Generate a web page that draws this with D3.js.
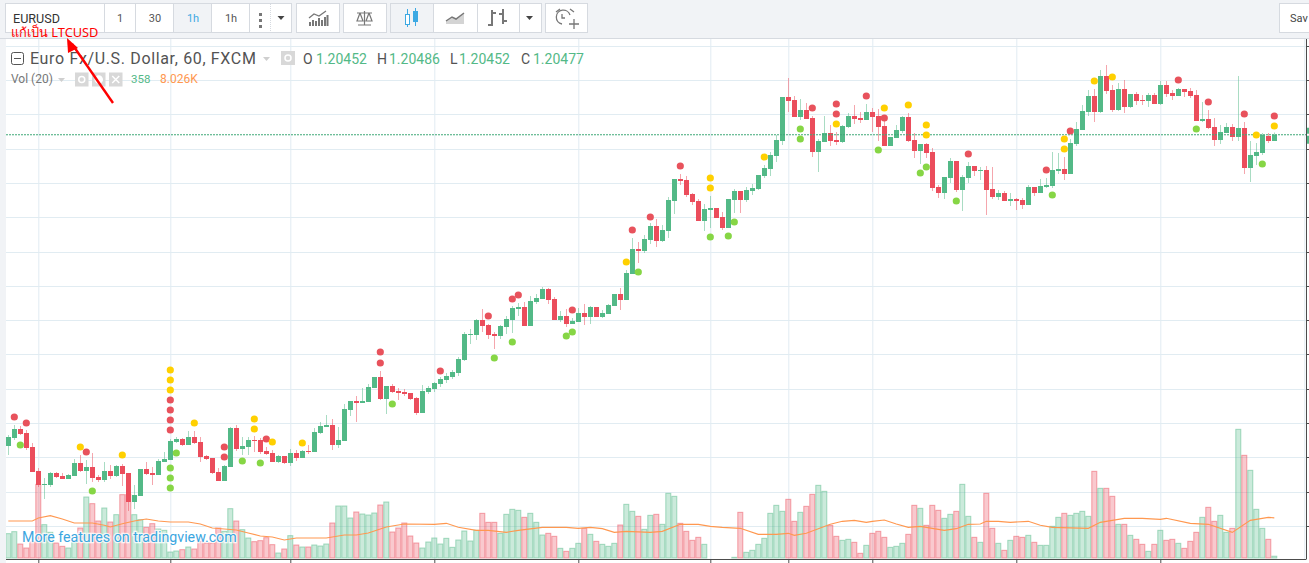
<!DOCTYPE html>
<html>
<head>
<meta charset="utf-8">
<script src="https://d3js.org/d3.v7.min.js"></script>
<style>
  html, body { margin: 0; padding: 0; background: #f1f3f6; overflow: hidden; }
  svg { display: block; font-family: Roboto, "Open Sans", sans-serif; }
</style>
</head>
<body>
<svg id="chart" width="1309" height="563"></svg>
<script>
// EURUSD 60 minute bars
const opens = [
  1.19232,1.19264,1.19300,1.19284,1.19228,1.19132,1.19076,1.19076,1.19124,1.19112,
  1.19100,1.19112,1.19164,1.19132,1.19148,1.19108,1.19096,1.19132,1.19112,1.19152,
  1.19124,1.19008,1.19032,1.19140,1.19124,1.19116,1.19168,1.19176,1.19248,1.19260,
  1.19236,1.19268,1.19248,1.19192,1.19184,1.19128,1.19092,1.19148,1.19304,1.19220,
  1.19228,1.19256,1.19256,1.19212,1.19204,1.19168,1.19192,1.19164,1.19204,1.19184,
  1.19212,1.19208,1.19284,1.19308,1.19316,1.19236,1.19252,1.19376,1.19412,1.19404,
  1.19408,1.19464,1.19508,1.19420,1.19472,1.19452,1.19448,1.19444,1.19424,1.19364,
  1.19448,1.19460,1.19480,1.19496,1.19508,1.19524,1.19576,1.19676,1.19676,1.19736,
  1.19716,1.19680,1.19672,1.19708,1.19736,1.19780,1.19788,1.19712,1.19808,1.19820,
  1.19860,1.19820,1.19736,1.19752,1.19720,1.19728,1.19764,1.19748,1.19788,1.19748,
  1.19760,1.19792,1.19840,1.19816,1.19920,1.20020,1.20012,1.20056,1.20112,1.20052,
  1.20092,1.20212,1.20300,1.20296,1.20240,1.20212,1.20132,1.20176,1.20184,1.20148,
  1.20104,1.20216,1.20252,1.20216,1.20252,1.20260,1.20312,1.20340,1.20392,1.20452,
  1.20628,1.20616,1.20548,1.20576,1.20544,1.20408,1.20448,1.20484,1.20456,1.20448,
  1.20508,1.20552,1.20544,1.20536,1.20568,1.20552,1.20512,1.20432,1.20464,1.20492,
  1.20548,1.20456,1.20412,1.20440,1.20408,1.20268,1.20244,1.20304,1.20372,1.20256,
  1.20304,1.20352,1.20332,1.20336,1.20260,1.20228,1.20244,1.20212,1.20220,1.20216,
  1.20196,1.20268,1.20244,1.20268,1.20272,1.20332,1.20340,1.20320,1.20440,1.20496,
  1.20568,1.20632,1.20568,1.20712,1.20656,1.20576,1.20660,1.20588,1.20640,1.20616,
  1.20612,1.20636,1.20600,1.20676,1.20644,1.20632,1.20660,1.20652,1.20636,1.20532,
  1.20540,1.20508,1.20456,1.20484,1.20508,1.20468,1.20504,1.20344,1.20392,1.20404,
  1.20472,1.20452];
const closes = [
  1.19268,1.19300,1.19280,1.19224,1.19128,1.19076,1.19080,1.19124,1.19108,1.19100,
  1.19116,1.19164,1.19132,1.19148,1.19104,1.19096,1.19132,1.19112,1.19152,1.19120,
  1.19008,1.19036,1.19140,1.19120,1.19116,1.19172,1.19180,1.19252,1.19260,1.19236,
  1.19268,1.19244,1.19188,1.19180,1.19124,1.19092,1.19152,1.19304,1.19220,1.19232,
  1.19256,1.19252,1.19208,1.19200,1.19168,1.19192,1.19164,1.19204,1.19184,1.19212,
  1.19208,1.19288,1.19312,1.19316,1.19236,1.19256,1.19380,1.19412,1.19404,1.19412,
  1.19468,1.19508,1.19420,1.19472,1.19448,1.19444,1.19440,1.19420,1.19364,1.19452,
  1.19464,1.19484,1.19500,1.19512,1.19528,1.19580,1.19680,1.19680,1.19736,1.19712,
  1.19676,1.19672,1.19712,1.19740,1.19784,1.19788,1.19712,1.19812,1.19824,1.19860,
  1.19816,1.19736,1.19752,1.19720,1.19732,1.19764,1.19748,1.19788,1.19748,1.19764,
  1.19796,1.19840,1.19816,1.19924,1.20020,1.20012,1.20060,1.20112,1.20052,1.20096,
  1.20216,1.20300,1.20292,1.20236,1.20208,1.20132,1.20180,1.20184,1.20144,1.20104,
  1.20220,1.20252,1.20216,1.20256,1.20264,1.20316,1.20344,1.20396,1.20456,1.20628,
  1.20612,1.20548,1.20576,1.20540,1.20408,1.20452,1.20484,1.20452,1.20448,1.20512,
  1.20552,1.20540,1.20536,1.20568,1.20548,1.20508,1.20432,1.20468,1.20496,1.20548,
  1.20452,1.20412,1.20440,1.20404,1.20264,1.20244,1.20308,1.20372,1.20256,1.20308,
  1.20352,1.20332,1.20336,1.20256,1.20228,1.20244,1.20212,1.20220,1.20212,1.20196,
  1.20268,1.20244,1.20272,1.20276,1.20336,1.20340,1.20320,1.20444,1.20500,1.20572,
  1.20632,1.20568,1.20712,1.20652,1.20576,1.20660,1.20588,1.20640,1.20612,1.20612,
  1.20636,1.20600,1.20676,1.20640,1.20632,1.20660,1.20648,1.20632,1.20532,1.20540,
  1.20504,1.20456,1.20488,1.20508,1.20468,1.20504,1.20344,1.20396,1.20408,1.20476,
  1.20452,1.20477];
const highs = [
  1.19276,1.19316,1.19312,1.19296,1.19244,1.19144,1.19104,1.19128,1.19128,1.19124,
  1.19120,1.19180,1.19196,1.19176,1.19204,1.19116,1.19168,1.19156,1.19156,1.19160,
  1.19124,1.19076,1.19140,1.19168,1.19148,1.19180,1.19208,1.19260,1.19268,1.19264,
  1.19292,1.19292,1.19268,1.19196,1.19184,1.19144,1.19156,1.19308,1.19316,1.19268,
  1.19268,1.19272,1.19264,1.19228,1.19216,1.19196,1.19192,1.19220,1.19216,1.19216,
  1.19236,1.19304,1.19328,1.19356,1.19340,1.19308,1.19400,1.19412,1.19432,1.19464,
  1.19480,1.19508,1.19532,1.19472,1.19480,1.19464,1.19460,1.19444,1.19428,1.19476,
  1.19472,1.19488,1.19508,1.19524,1.19536,1.19588,1.19688,1.19700,1.19740,1.19780,
  1.19720,1.19688,1.19716,1.19752,1.19792,1.19804,1.19808,1.19832,1.19840,1.19868,
  1.19864,1.19828,1.19772,1.19780,1.19744,1.19784,1.19800,1.19792,1.19788,1.19776,
  1.19800,1.19840,1.19864,1.19936,1.20064,1.20048,1.20076,1.20124,1.20140,1.20116,
  1.20228,1.20300,1.20320,1.20312,1.20244,1.20220,1.20200,1.20232,1.20184,1.20168,
  1.20220,1.20260,1.20252,1.20268,1.20280,1.20316,1.20356,1.20408,1.20476,1.20628,
  1.20704,1.20632,1.20620,1.20604,1.20552,1.20460,1.20552,1.20516,1.20488,1.20516,
  1.20564,1.20596,1.20568,1.20600,1.20584,1.20580,1.20556,1.20468,1.20516,1.20552,
  1.20564,1.20484,1.20440,1.20444,1.20424,1.20276,1.20308,1.20384,1.20372,1.20316,
  1.20368,1.20352,1.20348,1.20352,1.20348,1.20256,1.20252,1.20244,1.20224,1.20224,
  1.20276,1.20268,1.20300,1.20304,1.20408,1.20404,1.20388,1.20460,1.20528,1.20596,
  1.20656,1.20660,1.20736,1.20756,1.20676,1.20684,1.20696,1.20640,1.20648,1.20636,
  1.20644,1.20644,1.20692,1.20692,1.20656,1.20664,1.20660,1.20664,1.20656,1.20608,
  1.20576,1.20544,1.20516,1.20524,1.20520,1.20712,1.20528,1.20452,1.20444,1.20484,
  1.20484,1.20486];
const lows = [
  1.19196,1.19256,1.19276,1.19216,1.19128,1.19068,1.19020,1.19068,1.19104,1.19100,
  1.19100,1.19112,1.19128,1.19080,1.19088,1.19088,1.19088,1.19100,1.19108,1.19072,
  1.18972,1.18980,1.19032,1.19116,1.19076,1.19116,1.19168,1.19176,1.19244,1.19232,
  1.19236,1.19240,1.19168,1.19176,1.19120,1.19092,1.19092,1.19148,1.19212,1.19196,
  1.19196,1.19208,1.19200,1.19196,1.19168,1.19164,1.19160,1.19152,1.19172,1.19184,
  1.19200,1.19208,1.19280,1.19308,1.19216,1.19224,1.19252,1.19352,1.19328,1.19404,
  1.19408,1.19464,1.19416,1.19360,1.19444,1.19416,1.19432,1.19416,1.19356,1.19364,
  1.19440,1.19448,1.19468,1.19484,1.19500,1.19512,1.19572,1.19640,1.19656,1.19688,
  1.19660,1.19620,1.19660,1.19680,1.19684,1.19752,1.19712,1.19712,1.19800,1.19820,
  1.19800,1.19736,1.19728,1.19708,1.19720,1.19728,1.19716,1.19720,1.19748,1.19744,
  1.19760,1.19792,1.19776,1.19816,1.19920,1.19964,1.20004,1.20040,1.20028,1.20048,
  1.20064,1.20160,1.20276,1.20228,1.20196,1.20132,1.20092,1.20104,1.20144,1.20096,
  1.20104,1.20164,1.20164,1.20208,1.20236,1.20256,1.20304,1.20312,1.20368,1.20436,
  1.20568,1.20548,1.20536,1.20540,1.20388,1.20328,1.20448,1.20432,1.20436,1.20444,
  1.20504,1.20520,1.20524,1.20536,1.20488,1.20452,1.20432,1.20432,1.20464,1.20484,
  1.20448,1.20384,1.20360,1.20384,1.20252,1.20224,1.20220,1.20284,1.20248,1.20172,
  1.20284,1.20312,1.20296,1.20156,1.20220,1.20216,1.20212,1.20192,1.20176,1.20180,
  1.20196,1.20232,1.20244,1.20264,1.20264,1.20320,1.20296,1.20320,1.20432,1.20496,
  1.20552,1.20528,1.20564,1.20640,1.20568,1.20572,1.20564,1.20584,1.20596,1.20596,
  1.20588,1.20600,1.20596,1.20628,1.20616,1.20632,1.20628,1.20624,1.20532,1.20528,
  1.20500,1.20432,1.20440,1.20484,1.20452,1.20452,1.20320,1.20288,1.20356,1.20396,
  1.20444,1.20452];
const volumes = [
  4867,5267,2800,2000,3200,14733,6667,5133,3000,2333,
  2000,3133,6000,12200,10867,7400,10000,7200,8667,12667,
  12667,8667,7667,6133,6867,5800,5533,1200,1400,1667,
  2200,1800,3333,3000,3000,6000,5333,9867,7400,5667,
  4000,3267,3467,4067,2667,1000,1800,4467,2600,2200,
  2200,2600,2400,2800,7000,10400,10400,8000,9200,8800,
  8600,9000,10600,11200,5200,6000,7000,4400,3000,2000,
  3200,4000,2800,3933,2133,3600,5400,3400,5533,8933,
  7133,7133,4933,8733,9733,9533,8133,8933,7133,4600,
  4933,4333,1933,1333,1933,2933,5933,4733,3333,2733,
  2333,2933,6600,10733,9333,8333,5733,8533,8733,6733,
  12933,12333,6933,5333,3533,4133,2733,0,0,0,
  0,133,9133,1133,1533,2733,3933,8933,10533,9333,
  11733,7333,9133,10333,12733,14533,13333,6533,4333,3533,
  3733,3133,933,2533,4933,5333,4133,2133,2333,2933,
  4733,10533,9933,6533,10533,9533,7933,8733,9333,14733,
  8333,4133,3133,12933,5933,2933,1533,3533,4333,4133,
  4533,3133,2533,2533,6333,8133,8933,8533,8933,9333,
  8333,17333,13933,13933,12333,6733,6733,4533,3733,2733,
  1333,2733,5533,3533,3733,2933,1933,3333,5133,8133,
  10133,7333,8533,5133,5933,25733,20533,17533,9733,5933,
  3733,358];

// Vol (20) average line, read at these bars
const maBars = [0,4,5,7,9,11,14,16,17,19,21,23,25,27,30,32,34,36,38,40,42,44,46,48,53,56,58,60,63,66,71,73,75,78,80,83,85,89,93,95,97,99,101,103,107,109,112,115,117,119,122,125,128,130,131,133,137,139,141,143,144,146,148,150,152,156,158,160,162,163,165,167,170,172,174,180,182,186,189,192,193,197,200,204,207,210,211];
const maValues = [7400,7400,8000,8467,7800,7000,7000,6533,6200,6867,7400,7800,7400,7200,7200,6800,6000,5800,5600,5000,4400,4200,3600,4000,4000,4600,4600,5000,6200,6800,6733,6933,6133,5533,5533,5133,5533,6133,6133,5933,6133,5867,5133,5333,5133,5333,6733,6733,6333,6133,5933,4733,4733,4933,4533,4933,6733,7333,7533,7133,7333,7600,6800,6133,6333,5533,5867,6733,6800,7333,7333,7133,7333,6533,6133,5933,7133,7933,7933,7733,7933,6933,6733,5133,7533,8133,8026];

// Signal dots above / below the candles
const redDotBars = [1,3,13,27,27,27,27,36,36,43,62,62,72,80,84,85,94,104,107,112,134,138,138,143,146,160,173,177,195,200,206,211];
const redDotPrices = [1.19348,1.19324,1.19208,1.19296,1.19336,1.19376,1.19416,1.19228,1.19188,1.19260,1.19608,1.19564,1.19532,1.19752,1.19820,1.19836,1.19776,1.20096,1.20148,1.20352,1.20584,1.20600,1.20560,1.20632,1.20544,1.20400,1.20336,1.20492,1.20696,1.20608,1.20560,1.20552];
const yellowDotBars = [12,19,27,27,27,31,41,41,44,49,103,117,117,126,138,146,150,153,153,176,176,181,184,208,211];
const yellowDotPrices = [1.19228,1.19196,1.19536,1.19496,1.19456,1.19324,1.19340,1.19300,1.19248,1.19244,1.19968,1.20304,1.20264,1.20388,1.20520,1.20584,1.20596,1.20516,1.20476,1.20460,1.20420,1.20692,1.20708,1.20476,1.20512];
const greenDotBars = [2,14,27,27,27,28,39,42,64,81,84,93,94,105,117,120,121,132,132,145,152,153,158,174,198,209];
const greenDotPrices = [1.19236,1.19052,1.19144,1.19104,1.19064,1.19204,1.19172,1.19164,1.19400,1.19584,1.19648,1.19672,1.19688,1.19928,1.20068,1.20072,1.20128,1.20500,1.20460,1.20416,1.20324,1.20348,1.20212,1.20236,1.20500,1.20360];

const priceTicks = [1.18912,1.19048,1.19188,1.19324,1.19460,1.19600,1.19736,1.19872,1.20008,1.20148,1.20284,1.20420,1.20560,1.20696,1.20832];
const timeTicks = [5,27,47,71,95,117,130,144,168,192,216];
const lastPrice = 1.20477;

const GREEN = "#53b987", RED = "#eb4d5c", ORANGE = "#ff9850", GRID = "#e1ecf2";
const LEFT = 6, RIGHT = 1306, TOP = 39, BOTTOM = 559;

const svg = d3.select("#chart");
svg.append("defs").append("clipPath").attr("id", "plot")
    .append("rect").attr("x", LEFT).attr("y", TOP).attr("width", RIGHT - LEFT).attr("height", BOTTOM - TOP);

// scales
const x = d3.scaleLinear().domain([0, 211]).range([8.3, 1274.3]);
const y = d3.scaleLinear().domain([1.19016, 1.20616]).range([500, 100]);
const vol = d3.scaleLinear().domain([0, 25800]).range([558, 429]);

const bars = d3.range(opens.length);
const barColor = i => closes[i] >= opens[i] ? GREEN : RED;

svg.append("rect").attr("x", LEFT).attr("y", TOP).attr("width", RIGHT - LEFT + 3).attr("height", 524).attr("fill", "#fff");
svg.append("rect").attr("x", 0).attr("y", 38).attr("width", 1309).attr("height", 1).attr("fill", "#d6dae0");

// grid, built from the axes
svg.append("g").attr("transform", `translate(0,${BOTTOM})`)
    .call(d3.axisBottom(x).tickValues(timeTicks).tickSize(-(BOTTOM - TOP)).tickFormat(""))
    .call(g => g.select(".domain").remove())
    .call(g => g.selectAll("line").attr("stroke", GRID));
svg.append("g").attr("transform", `translate(${RIGHT},0)`)
    .call(d3.axisLeft(y).tickValues(priceTicks).tickSize(RIGHT - LEFT).tickFormat(""))
    .call(g => g.select(".domain").remove())
    .call(g => g.selectAll("line").attr("stroke", GRID));

const plot = svg.append("g").attr("clip-path", "url(#plot)");

// volume bars
plot.append("g").selectAll("rect").data(bars.filter(i => volumes[i] > 0)).join("rect")
    .attr("x", i => x(i) - 2.5)
    .attr("y", i => vol(volumes[i]))
    .attr("width", 5)
    .attr("height", i => vol(0) - vol(volumes[i]))
    .attr("fill", barColor).attr("fill-opacity", 0.3)
    .attr("stroke", barColor).attr("stroke-opacity", 0.5);

// average of the volume
plot.append("path")
    .attr("d", d3.line().x((d, k) => x(maBars[k])).y(d => vol(d))(maValues))
    .attr("fill", "none").attr("stroke", ORANGE).attr("stroke-width", 1.1);

// wicks and bodies
plot.append("g").selectAll("line").data(bars).join("line")
    .attr("x1", i => Math.round(x(i)) + 0.5).attr("x2", i => Math.round(x(i)) + 0.5)
    .attr("y1", i => y(highs[i])).attr("y2", i => y(lows[i]))
    .attr("stroke", barColor).attr("stroke-opacity", 0.5);
plot.append("g").selectAll("rect").data(bars).join("rect")
    .attr("x", i => Math.round(x(i)) - 2)
    .attr("y", i => y(Math.max(opens[i], closes[i])))
    .attr("width", 5)
    .attr("height", i => Math.max(1, Math.abs(y(opens[i]) - y(closes[i]))))
    .attr("fill", barColor);

// last price line
plot.append("line")
    .attr("x1", LEFT).attr("x2", RIGHT)
    .attr("y1", y(lastPrice)).attr("y2", y(lastPrice))
    .attr("stroke", "#3fa877").attr("stroke-dasharray", "2,1");

// signal dots
function drawDots(dotBars, dotPrices, color) {
    plot.append("g").selectAll("circle").data(dotBars).join("circle")
        .attr("cx", d => x(d))
        .attr("cy", (d, k) => y(dotPrices[k]))
        .attr("r", 3.6)
        .attr("fill", color);
}
drawDots(redDotBars, redDotPrices, "#e8525c");
drawDots(yellowDotBars, yellowDotPrices, "#ffd000");
drawDots(greenDotBars, greenDotPrices, "#86d645");

// time axis and right edge
svg.append("g").attr("transform", `translate(0,${BOTTOM})`)
    .call(d3.axisBottom(x).tickValues(timeTicks.slice(0, 10)).tickSize(4).tickFormat(""))
    .call(g => g.select(".domain").remove())
    .call(g => g.selectAll("line").attr("stroke", "#4c4c4c"));
svg.append("line").attr("x1", LEFT).attr("x2", RIGHT + 0.5).attr("y1", BOTTOM + 0.5).attr("y2", BOTTOM + 0.5).attr("stroke", "#4c4c4c");
svg.append("g").attr("transform", `translate(${RIGHT},0)`)
    .call(d3.axisRight(y).tickValues(priceTicks).tickSize(3).tickFormat(""))
    .call(g => g.select(".domain").remove())
    .call(g => g.selectAll("line").attr("stroke", "#4c4c4c"));
svg.append("line").attr("x1", RIGHT + 0.5).attr("x2", RIGHT + 0.5).attr("y1", TOP).attr("y2", BOTTOM).attr("stroke", "#4c4c4c");
svg.append("rect").attr("x", RIGHT + 1).attr("y", y(lastPrice) - 7).attr("width", 2).attr("height", 6).attr("fill", GREEN);
svg.append("rect").attr("x", RIGHT + 1).attr("y", y(lastPrice) + 1).attr("width", 2).attr("height", 8).attr("fill", GREEN);

// watermark
svg.append("text").attr("x", 22).attr("y", 542).text("More features on tradingview.com")
    .attr("font-size", 14.2).attr("fill", "#3ba6df").attr("stroke", "#fff").attr("stroke-width", 2.5)
    .attr("stroke-opacity", 0.8).attr("paint-order", "stroke");

// legend rows
function label(px, py, str, size, color) {
    return svg.append("text").attr("x", px).attr("y", py).text(str).attr("font-size", size).attr("fill", color);
}
function graySquare(px, py, w, mark) {
    svg.append("rect").attr("x", px).attr("y", py).attr("width", w).attr("height", 14).attr("fill", "#d8d8d8");
    const cx = px + w / 2, cy = py + 7;
    if (mark === "x") {
        svg.append("path").attr("d", `M${cx - 3.5},${cy - 3.5}l7,7m0,-7l-7,7`).attr("stroke", "#fff").attr("stroke-width", 1.5);
    } else {
        svg.append("circle").attr("cx", cx).attr("cy", cy).attr("r", mark === "gear" ? 3.5 : 3)
            .attr("fill", mark === "gear" ? "#fff" : "none").attr("stroke", "#fff").attr("stroke-width", 1.5);
    }
}
function caret(px, py, color) {
    svg.append("path").attr("d", `M${px},${py}h7l-3.5,4z`).attr("fill", color);
}
svg.append("rect").attr("x", 11.5).attr("y", 52.5).attr("width", 12).attr("height", 12).attr("rx", 2).attr("fill", "#fff").attr("stroke", "#555");
svg.append("line").attr("x1", 14).attr("x2", 21).attr("y1", 58.5).attr("y2", 58.5).attr("stroke", "#555");
label(30, 64, "Euro Fx/U.S. Dollar, 60, FXCM", 16, "#535353").attr("letter-spacing", 0.65);
caret(263, 57, "#cfcfcf");
graySquare(281, 51, 14, "eye");
label(303, 64, "O", 14, "#535353");
label(316, 64, "1.20452", 14, GREEN);
label(377, 64, "H", 14, "#535353");
label(389, 64, "1.20486", 14, GREEN);
label(450, 64, "L", 14, "#535353");
label(459, 64, "1.20452", 14, GREEN);
label(521, 64, "C", 14, "#535353");
label(533, 64, "1.20477", 14, GREEN);

label(11, 83, "Vol (20)", 12, "#777");
caret(58, 78, "#cfcfcf");
graySquare(75, 72.5, 13.5, "eye");
graySquare(92, 72.5, 13.5, "gear");
graySquare(109, 72.5, 13.5, "x");
label(131, 83, "358", 11.5, GREEN);
label(160, 83, "8.026K", 12, ORANGE);

// toolbar
const toolButtons = [[5, 99], [104, 31], [135, 38], [173, 38], [211, 38], [249, 42], [296, 43], [343, 43], [390, 43], [433, 44], [477, 42], [519, 22], [545, 42], [1279, 40]];
toolButtons.forEach(([px, w]) => {
    svg.append("rect").attr("x", px + 0.5).attr("y", 3.5).attr("width", w).attr("height", 29)
        .attr("fill", px === 173 || px === 390 ? "#f1f3f6" : "#fff").attr("stroke", "#d6dae0");
});
label(13, 23, "EURUSD", 12.6, "#333");
label(120, 22, "1", 11, "#555").attr("text-anchor", "middle");
label(155, 22, "30", 11, "#555").attr("text-anchor", "middle");
label(193, 22, "1h", 11, "#3da9e3").attr("text-anchor", "middle");
label(231, 22, "1h", 11, "#555").attr("text-anchor", "middle");
label(1290, 22, "Sav", 11, "#444");
[13, 19, 25].forEach(py => svg.append("rect").attr("x", 259).attr("y", py).attr("width", 3).attr("height", 3).attr("fill", "#777"));
svg.append("line").attr("x1", 270.5).attr("x2", 270.5).attr("y1", 4).attr("y2", 32).attr("stroke", "#d6dae0").attr("stroke-dasharray", "1,1");
caret(277.5, 16, "#444");
caret(526, 16, "#444");

const icons = svg.append("g").attr("fill", "none").attr("stroke", "#777");
// indicators
[[309,22,4],[312,20,6],[315,21,5],[318,18,8],[321,20,6],[324,17,9],[326.5,15,11]].forEach(([px, py, h]) =>
    icons.append("rect").attr("x", px).attr("y", py).attr("width", 2).attr("height", h).attr("fill", "#777").attr("stroke", "none"));
icons.append("path").attr("stroke-width", 1.3).attr("d", "M309,18L314,14L319,16L326,11");
// compare
icons.append("path").attr("stroke-width", 1.2).attr("d", "M357,13H372M364.5,11V25M360,13L357,21H363L360,13M369,13L366,21H372L369,13M358,25H371");
// candles
icons.append("path").attr("stroke", "#3da9e3").attr("d", "M407.5,9V27M415.5,8V26");
icons.append("rect").attr("x", 405.5).attr("y", 14.5).attr("width", 4).attr("height", 10).attr("fill", "#fff").attr("stroke", "#3da9e3");
icons.append("rect").attr("x", 413).attr("y", 11).attr("width", 5).attr("height", 11).attr("fill", "#3da9e3").attr("stroke", "none");
// area
icons.append("path").attr("fill", "#d4d4d4").attr("stroke", "none").attr("d", "M446,24V21L452,17L456,19L464,13V24Z");
icons.append("path").attr("stroke-width", 1.5).attr("d", "M446,21L452,17L456,19L464,13");
// bars
icons.append("path").attr("stroke-width", 2).attr("d", "M492,10V26M488,25H492M492,13H496M503,9V24M499,14H503M503,21H507");
// alarm
icons.append("path").attr("stroke-width", 1.3).attr("d", "M562,24A7,7 0 1,1 570,15M560,9L556,12M570,9L574,12M562,14V18H565M574,19V29M569,24H579");

// note written over the screenshot
label(11, 37, "แก้เป็น LTCUSD", 12.8, "#f00").style("font-family", "'Noto Sans', 'DejaVu Sans', sans-serif");
svg.append("line").attr("x1", 113).attr("y1", 103).attr("x2", 72).attr("y2", 44).attr("stroke", "#f00").attr("stroke-width", 2.4);
svg.append("path").attr("d", "M67,38L78,48L68,53Z").attr("fill", "#f00");
</script>
</body>
</html>
